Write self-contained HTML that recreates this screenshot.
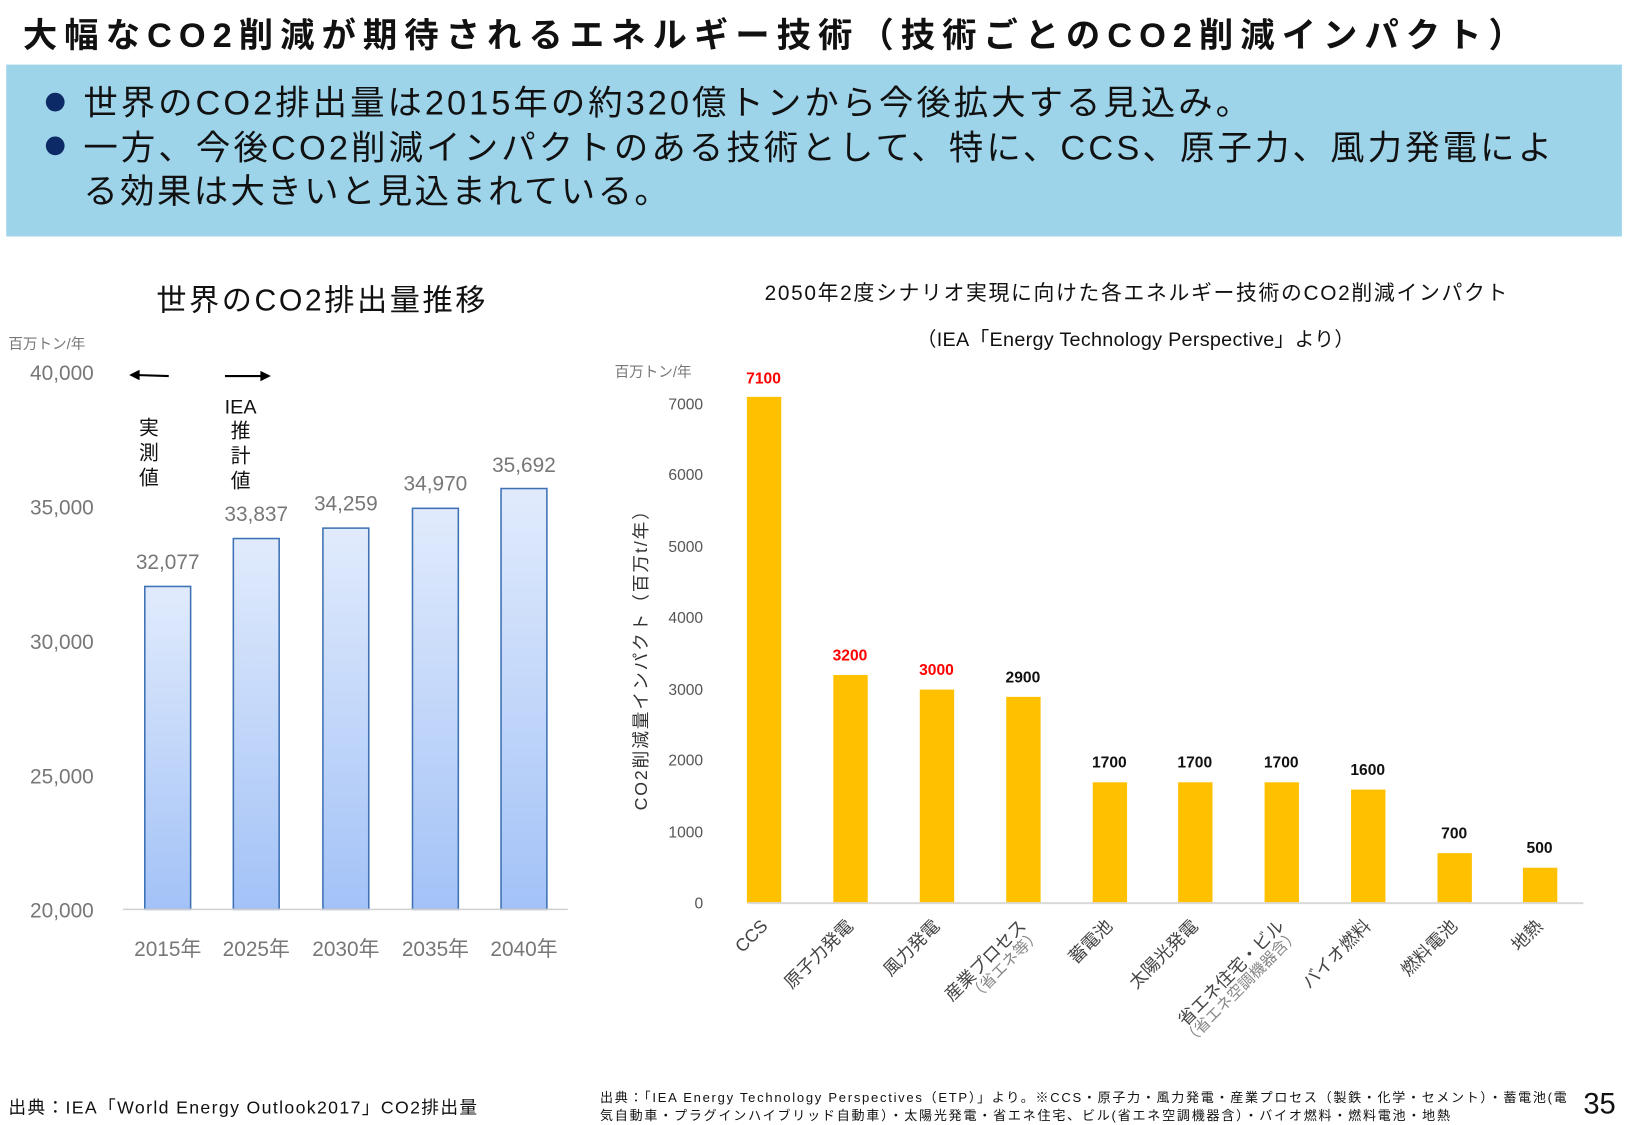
<!DOCTYPE html>
<html><head><meta charset="utf-8"><style>
html,body{margin:0;padding:0;background:#fff;}
svg{display:block;font-family:"Liberation Sans","Noto Sans CJK JP",sans-serif;}
</style></head><body>
<svg width="1625" height="1125" viewBox="0 0 1560 1080" xmlns="http://www.w3.org/2000/svg">
<defs>
<linearGradient id="g" x1="0" y1="0" x2="0" y2="1">
<stop offset="0" stop-color="#e1ebfc"/><stop offset="1" stop-color="#a3c2f7"/>
</linearGradient>
</defs>
<rect width="1560" height="1080" fill="#fff"/>
<text x="22" y="45" font-size="33" font-weight="bold" fill="#111" textLength="1440" lengthAdjust="spacing">大幅なCO2削減が期待されるエネルギー技術（技術ごとのCO2削減インパクト）</text>
<rect x="6" y="62" width="1551" height="165" fill="#9dd4ea"/>
<g font-size="33" fill="#111">
<circle cx="53" cy="98" r="9" fill="#0b2a66"/>
<circle cx="53" cy="140" r="9" fill="#0b2a66"/>
<text x="80" y="110" textLength="1120" lengthAdjust="spacing">世界のCO2排出量は2015年の約320億トンから今後拡大する見込み。</text>
<text x="80" y="153" textLength="1410" lengthAdjust="spacing">一方、今後CO2削減インパクトのある技術として、特に、CCS、原子力、風力発電によ</text>
<text x="80" y="195" textLength="562" lengthAdjust="spacing">る効果は大きいと見込まれている。</text>
</g>

<!-- left chart -->
<text x="150" y="298" font-size="29" fill="#111" textLength="316" lengthAdjust="spacing">世界のCO2排出量推移</text>
<text x="8" y="335" font-size="14" fill="#777">百万トン/年</text>
<g font-size="20" fill="#777" text-anchor="end">
<text x="90" y="365">40,000</text><text x="90" y="494">35,000</text><text x="90" y="623">30,000</text><text x="90" y="752">25,000</text><text x="90" y="881">20,000</text>
</g>
<g stroke="#000" stroke-width="2" fill="#000">
<line x1="162" y1="361" x2="130" y2="360"/><polygon points="124,360 134,355 134,365" stroke="none"/>
<line x1="216" y1="361" x2="252" y2="361"/><polygon points="260,361 250,356 250,366" stroke="none"/>
</g>
<g font-size="19" fill="#111" text-anchor="middle">
<text x="143" y="417">実</text><text x="143" y="441">測</text><text x="143" y="465">値</text>
<text x="231" y="397">IEA</text><text x="231" y="420">推</text><text x="231" y="444">計</text><text x="231" y="468">値</text>
</g>
<g fill="url(#g)" stroke="#3f72b5" stroke-width="1.5">
<rect x="139" y="563" width="44" height="310"/>
<rect x="224" y="517" width="44" height="356"/>
<rect x="310" y="507" width="44" height="366"/>
<rect x="396" y="488" width="44" height="385"/>
<rect x="481" y="469" width="44" height="404"/>
</g>
<line x1="118" y1="873" x2="545" y2="873" stroke="#d0d0d0" stroke-width="1.5"/>
<g font-size="20" fill="#777" text-anchor="middle">
<text x="161" y="546">32,077</text><text x="246" y="500">33,837</text><text x="332" y="490">34,259</text><text x="418" y="471">34,970</text><text x="503" y="453">35,692</text>
<text x="161" y="918">2015年</text><text x="246" y="918">2025年</text><text x="332" y="918">2030年</text><text x="418" y="918">2035年</text><text x="503" y="918">2040年</text>
</g>

<!-- right chart -->
<text x="734" y="288" font-size="20" fill="#111" textLength="713" lengthAdjust="spacing">2050年2度シナリオ実現に向けた各エネルギー技術のCO2削減インパクト</text>
<text x="880" y="332" font-size="19" fill="#111" textLength="420" lengthAdjust="spacing">（IEA「Energy Technology Perspective」より）</text>
<text x="590" y="362" font-size="14" fill="#777">百万トン/年</text>
<g font-size="15" fill="#555" text-anchor="end">
<text x="675" y="872">0</text><text x="675" y="804">1000</text><text x="675" y="735">2000</text><text x="675" y="667">3000</text><text x="675" y="598">4000</text><text x="675" y="530">5000</text><text x="675" y="461">6000</text><text x="675" y="393">7000</text>
</g>
<text transform="translate(621,630) rotate(-90)" font-size="17" fill="#333" text-anchor="middle" textLength="296" lengthAdjust="spacing">CO2削減量インパクト（百万t/年）</text>
<g fill="#ffc000">
<rect x="717" y="381" width="33" height="486"/>
<rect x="800" y="648" width="33" height="219"/>
<rect x="883" y="662" width="33" height="205"/>
<rect x="966" y="669" width="33" height="198"/>
<rect x="1049" y="751" width="33" height="116"/>
<rect x="1131" y="751" width="33" height="116"/>
<rect x="1214" y="751" width="33" height="116"/>
<rect x="1297" y="758" width="33" height="109"/>
<rect x="1380" y="819" width="33" height="48"/>
<rect x="1462" y="833" width="33" height="34"/>
</g>
<line x1="718" y1="867" x2="1520" y2="867" stroke="#d9d9d9" stroke-width="2"/>
<g font-size="15" font-weight="bold" text-anchor="middle">
<text x="733" y="368" fill="#ff0000">7100</text>
<text x="816" y="634" fill="#ff0000">3200</text>
<text x="899" y="648" fill="#ff0000">3000</text>
<text x="982" y="655" fill="#111">2900</text>
<text x="1065" y="737" fill="#111">1700</text>
<text x="1147" y="737" fill="#111">1700</text>
<text x="1230" y="737" fill="#111">1700</text>
<text x="1313" y="744" fill="#111">1600</text>
<text x="1396" y="805" fill="#111">700</text>
<text x="1478" y="819" fill="#111">500</text>
</g>
<g font-size="17" fill="#444" text-anchor="end">
<text transform="translate(738,890) rotate(-45)">CCS</text>
<text transform="translate(820,890) rotate(-45)">原子力発電</text>
<text transform="translate(903,890) rotate(-45)">風力発電</text>
<text transform="translate(986,890) rotate(-45)">産業プロセス</text>
<text transform="translate(1000,898) rotate(-45)" font-size="15" fill="#888">（省エネ等）</text>
<text transform="translate(1069,890) rotate(-45)">蓄電池</text>
<text transform="translate(1151,890) rotate(-45)">太陽光発電</text>
<text transform="translate(1234,890) rotate(-45)">省エネ住宅・ビル</text>
<text transform="translate(1248,898) rotate(-45)" font-size="15" fill="#888">（省エネ空調機器含）</text>
<text transform="translate(1317,890) rotate(-45)">バイオ燃料</text>
<text transform="translate(1400,890) rotate(-45)">燃料電池</text>
<text transform="translate(1482,890) rotate(-45)">地熱</text>
</g>

<!-- footer -->
<text x="8" y="1069" font-size="17" fill="#111" textLength="450" lengthAdjust="spacing">出典：IEA「World Energy Outlook2017」CO2排出量</text>
<g font-size="12.5" fill="#111">
<text x="576" y="1058" textLength="928" lengthAdjust="spacing">出典：「IEA Energy Technology Perspectives（ETP）」より。※CCS・原子力・風力発電・産業プロセス（製鉄・化学・セメント）・蓄電池(電</text>
<text x="576" y="1075" textLength="816" lengthAdjust="spacing">気自動車・プラグインハイブリッド自動車）・太陽光発電・省エネ住宅、ビル(省エネ空調機器含）・バイオ燃料・燃料電池・地熱</text>
</g>
<text x="1520" y="1069" font-size="28" fill="#111">35</text>
</svg>
</body></html>
